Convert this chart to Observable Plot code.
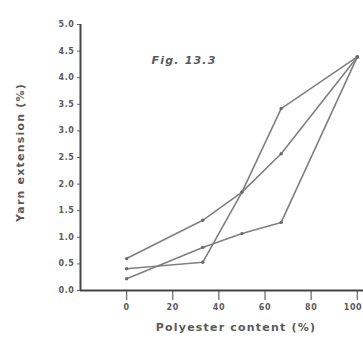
<!DOCTYPE html>
<html>
<head>
<meta charset="utf-8">
<script src="https://cdn.jsdelivr.net/npm/d3@7"></script>
<script src="https://cdn.jsdelivr.net/npm/@observablehq/plot@0.6"></script>
<style>
  html, body { margin: 0; padding: 0; background: #fff; }
  #chart svg { display: block; }
  #chart svg text { letter-spacing: 0.6px; }
</style>
</head>
<body>
<div id="chart"></div>
<script>
const polyester = [0, 33, 50, 67, 100];
const seriesA = [0.60, 1.32, 1.85, 2.57, 4.39];
const seriesB = [0.41, 0.53, 1.85, 3.42, 4.39];
const seriesC = [0.22, 0.81, 1.07, 1.28, 4.39];
const yTicks = [0, 0.5, 1, 1.5, 2, 2.5, 3, 3.5, 4, 4.5, 5];
const xTicks = [0, 20, 40, 60, 80];
const lastXTick = [100];
const titleText = "Fig. 13.3";
const xLabel = "Polyester content (%)";
const yLabel = "Yarn extension (%)";

const rows = [];
[["A", seriesA], ["B", seriesB], ["C", seriesC]].forEach(([s, vals]) => {
  vals.forEach((v, i) => rows.push({series: s, x: polyester[i], y: v}));
});

const font = "'DejaVu Sans', sans-serif";
const ink = "#5a5a5a";

const chart = Plot.plot({
  width: 363,
  height: 339,
  marginLeft: 80,
  marginRight: 0,
  marginTop: 24,
  marginBottom: 49,
  style: {fontFamily: font, background: "#fff"},
  x: {domain: [-20, 102.7]},
  y: {domain: [0, 5]},
  marks: [
    Plot.axisY({ticks: yTicks, tickSize: 3, tickPadding: 3, tickFormat: d3.format(".1f"),
      fontSize: 8, fontWeight: "bold", fill: ink, stroke: "#666", label: null}),
    Plot.axisX({ticks: xTicks.concat(lastXTick), tickSize: 10, tickPadding: 4,
      tickFormat: d => lastXTick.includes(d) ? "" : d,
      fontSize: 8, fontWeight: "bold", fill: ink, stroke: "#666", strokeWidth: 1.2, label: null}),
    Plot.text(lastXTick, {x: d => d, frameAnchor: "bottom", dy: 19, textAnchor: "end", dx: 5,
      text: d => d, fontSize: 8, fontWeight: "bold", fill: ink}),
    Plot.ruleX([-20], {y1: 0, y2: 5, stroke: "#444", strokeWidth: 2}),
    Plot.ruleY([0], {stroke: "#444", strokeWidth: 2}),
    Plot.line(rows, {x: "x", y: "y", z: "series", stroke: "#808080", strokeWidth: 1.6}),
    Plot.dot(rows, {x: "x", y: "y", r: 1.7, fill: "#6a6a6a"}),
    Plot.text([titleText], {frameAnchor: "top-left", dx: 71, dy: 32, textAnchor: "start",
      fontSize: 11, fontWeight: "bold", fontStyle: "italic", fill: ink}),
    Plot.text([xLabel], {frameAnchor: "bottom", dx: 14, dy: 40, textAnchor: "middle", fontSize: 11,
      fontWeight: "bold", fill: ink}),
    Plot.text([yLabel], {frameAnchor: "left", dx: -60, dy: -5, rotate: -90, textAnchor: "middle",
      fontSize: 11, fontWeight: "bold", fill: ink})
  ]
});
d3.select(chart).selectAll("text").filter(function() {
  const t = this.textContent;
  return t === titleText || t === xLabel || t === yLabel;
}).style("letter-spacing", "1.2px");
document.getElementById("chart").appendChild(chart);
</script>
</body>
</html>
